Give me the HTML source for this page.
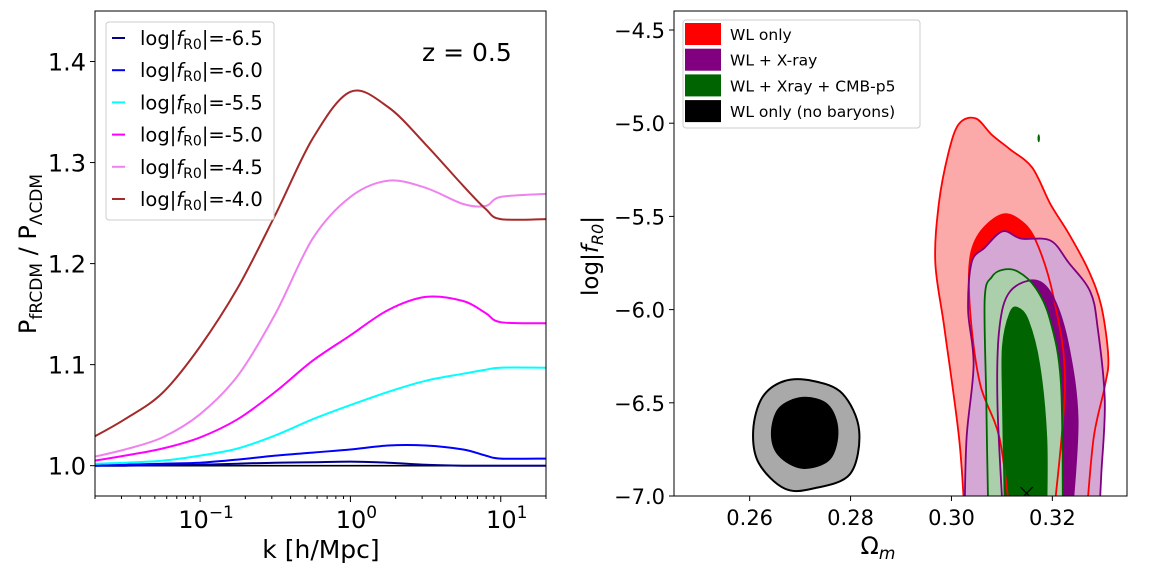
<!DOCTYPE html>
<html><head><meta charset="utf-8">
<style>
html,body{margin:0;padding:0;background:#fff;}
svg{display:block;font-family:"DejaVu Sans","Liberation Sans",sans-serif;}
</style></head>
<body>
<svg id="fig" width="1158" height="572" viewBox="0 0 1158 572">
<defs>
<clipPath id="clipL"><rect x="95" y="11" width="451" height="485"/></clipPath>
<clipPath id="clipR"><rect x="674" y="11" width="453" height="485"/></clipPath>
</defs>
<g id="left"></g>
<g id="right"></g>
</svg>
<script>
// ---------- Left chart data ----------
const logK = [-1.7,-1.5,-1.25,-1,-0.75,-0.5,-0.25,0,0.25,0.5,0.75,0.9,1,1.3];
const seriesLabels = ["-6.5","-6.0","-5.5","-5.0","-4.5","-4.0"];
const seriesColors = ["#00008b","#0000ff","#00ffff","#ff00ff","#ee82ee","#a52a2a"];
const ratio65 = [1.0,1.0,1.0005,1.001,1.002,1.003,1.0035,1.004,1.003,1.001,1.0,1.0,1.0,1.0];
const ratio60 = [1.0,1.001,1.002,1.003,1.006,1.01,1.013,1.016,1.02,1.02,1.016,1.01,1.007,1.007];
const ratio55 = [1.002,1.003,1.005,1.01,1.017,1.03,1.046,1.06,1.073,1.084,1.091,1.095,1.097,1.097];
const ratio50 = [1.005,1.01,1.017,1.028,1.046,1.073,1.104,1.129,1.154,1.167,1.163,1.151,1.142,1.141];
const ratio45 = [1.009,1.016,1.028,1.051,1.089,1.15,1.225,1.266,1.282,1.275,1.259,1.257,1.266,1.269];
const ratio40 = [1.029,1.046,1.072,1.118,1.176,1.248,1.324,1.37,1.355,1.318,1.277,1.254,1.244,1.244];
const yTicksL = [1.0,1.1,1.2,1.3,1.4];
const xTickExpL = [-1,0,1];

// ---------- Right chart data ----------
const xTicksR = [0.26,0.28,0.30,0.32];
const yTicksR = [-4.5,-5.0,-5.5,-6.0,-6.5,-7.0];
const redOuterOm = [0.3026,0.3015,0.2986,0.2968,0.2975,0.2994,0.3015,0.3048,0.308,0.3116,0.316,0.3196,0.3232,0.3271,0.3297,0.3311,0.3304,0.3282,0.3268];
const redOuterF  = [-7.1,-6.686,-6.099,-5.747,-5.433,-5.16,-5.003,-4.974,-5.062,-5.14,-5.238,-5.433,-5.59,-5.786,-5.981,-6.255,-6.412,-6.686,-7.1];
const redInnerOm = [0.3116,0.3095,0.3058,0.304,0.3035,0.3051,0.3095,0.3131,0.3167,0.3203,0.3225,0.3203];
const redInnerF  = [-7.1,-6.686,-6.412,-6.099,-5.786,-5.61,-5.496,-5.512,-5.629,-5.942,-6.392,-7.1];
const purOuterOm = [0.3026,0.303,0.3044,0.3033,0.304,0.3066,0.3102,0.3138,0.3196,0.3232,0.3275,0.329,0.3304,0.3297,0.3293];
const purOuterF  = [-7.1,-6.686,-6.295,-6.001,-5.747,-5.668,-5.58,-5.619,-5.629,-5.747,-5.903,-6.099,-6.49,-6.882,-7.1];
const purInnerOm = [0.3102,0.3091,0.3095,0.3116,0.3167,0.3203,0.3232,0.325,0.3239];
const purInnerF  = [-7.1,-6.49,-6.099,-5.903,-5.844,-5.942,-6.197,-6.588,-7.1];
const grnOuterOm = [0.3073,0.3069,0.3066,0.308,0.3102,0.3131,0.3167,0.3196,0.3217,0.3221];
const grnOuterF  = [-7.1,-6.49,-5.942,-5.825,-5.786,-5.795,-5.884,-6.06,-6.392,-7.1];
const grnInnerOm = [0.3106,0.3102,0.3102,0.3116,0.3131,0.3152,0.3174,0.3188,0.3188];
const grnInnerF  = [-7.1,-6.49,-6.197,-6.021,-5.991,-6.06,-6.295,-6.686,-7.1];
const blkOuterOm = [0.2607,0.2625,0.2669,0.2726,0.2784,0.2817,0.2799,0.2726,0.2669,0.2618];
const blkOuterF  = [-6.647,-6.471,-6.383,-6.383,-6.451,-6.647,-6.882,-6.96,-6.96,-6.823];
const blkInnerOm = [0.2643,0.2658,0.2705,0.2755,0.2775,0.2759,0.2705,0.2658];
const blkInnerF  = [-6.666,-6.529,-6.471,-6.51,-6.647,-6.803,-6.852,-6.784];
const legendR = ["WL only","WL + X-ray","WL + Xray + CMB-p5","WL only (no baryons)"];
const legendRColors = ["#ff0000","#800080","#006400","#000000"];

const NS="http://www.w3.org/2000/svg";
function mk(parent,tag,attrs,text){const e=document.createElementNS(NS,tag);for(const k in attrs)e.setAttribute(k,attrs[k]);if(text!==undefined)e.textContent=text;parent.appendChild(e);return e;}
function smooth(pts,closed){
  const n=pts.length;let d="M"+pts[0][0].toFixed(1)+","+pts[0][1].toFixed(1);
  const get=i=>closed?pts[(i+n)%n]:pts[Math.max(0,Math.min(n-1,i))];
  const lim=closed?n:n-1;
  for(let i=0;i<lim;i++){const p0=get(i-1),p1=get(i),p2=get(i+1),p3=get(i+2);
    const c1=[p1[0]+(p2[0]-p0[0])/6,p1[1]+(p2[1]-p0[1])/6],c2=[p2[0]-(p3[0]-p1[0])/6,p2[1]-(p3[1]-p1[1])/6];
    d+=" C"+c1[0].toFixed(1)+","+c1[1].toFixed(1)+" "+c2[0].toFixed(1)+","+c2[1].toFixed(1)+" "+p2[0].toFixed(1)+","+p2[1].toFixed(1);}
  return d+(closed?"Z":"");
}

// ----- Left chart -----
const L=document.getElementById('left');
const lx0=95,lx1=546,ly0=11,ly1=496;
const xL=v=>lx0+(v-Math.log10(0.02))/(Math.log10(20)-Math.log10(0.02))*(lx1-lx0);
const yL=v=>ly1-(v-0.97)/(1.45-0.97)*(ly1-ly0);
const lplot=mk(L,'g',{'clip-path':'url(#clipL)'});
let e=mk(lplot,'line',{x1:lx0,x2:lx1,y1:yL(1),y2:yL(1),stroke:'#000','stroke-width':1.6});


const allSeries=[ratio65,ratio60,ratio55,ratio50,ratio45,ratio40];
allSeries.forEach((s,i)=>{
  const pts=logK.map((k,j)=>[xL(k),yL(s[j])]);
  const p=mk(lplot,'path',{d:smooth(pts,false),fill:'none',stroke:seriesColors[i],'stroke-width':2});
  
  
});
mk(L,'rect',{x:lx0,y:ly0,width:lx1-lx0,height:ly1-ly0,fill:'none',stroke:'#000','stroke-width':1});
yTicksL.forEach(v=>{const y=yL(v);mk(L,'line',{x1:lx0-5,x2:lx0,y1:y,y2:y,stroke:'#000'});
  const t=mk(L,'text',{x:lx0-9,y:y+9,'font-size':24,'text-anchor':'end'},v.toFixed(1));
  
  });
for(let d=-2;d<=1;d++)for(let m=1;m<10;m++){const lv=d+Math.log10(m);const x=xL(lv);if(x<lx0||x>lx1)continue;
  mk(L,'line',{x1:x,x2:x,y1:ly1,y2:ly1+(m===1?6:3),stroke:'#000'});}
xTickExpL.forEach(p=>{const t=mk(L,'text',{x:xL(p)+6,y:528,'font-size':24,'text-anchor':'middle'});
  
  
  mk(t,'tspan',{},'10');mk(t,'tspan',{dy:-10,'font-size':17},p<0?'\u2212'+Math.abs(p):String(p));});
e=mk(L,'text',{x:321,y:558,'font-size':25,'text-anchor':'middle'},'k [h/Mpc]');


e=mk(L,'text',{transform:'translate(36,254) rotate(-90)','font-size':24,'text-anchor':'middle'});


mk(e,'tspan',{},'P');mk(e,'tspan',{dy:6,'font-size':17},'fRCDM');mk(e,'tspan',{dy:-6},' / P');mk(e,'tspan',{dy:6,'font-size':17},'\u039BCDM');
e=mk(L,'text',{x:422,y:61,'font-size':25},'z = 0.5');


const lg=mk(L,'g',{});


mk(lg,'rect',{x:106,y:22,width:168,height:198,rx:3,fill:'#fff','fill-opacity':0.85,stroke:'#ccc'});
seriesLabels.forEach((lab,i)=>{const y=38+i*32.2;
  const g=mk(lg,'g',{});
  
  
  mk(g,'line',{x1:112,x2:125,y1:y,y2:y,stroke:seriesColors[i],'stroke-width':2});
  const t=mk(g,'text',{x:140,y:y+7,'font-size':19.5});
  mk(t,'tspan',{},'log|');mk(t,'tspan',{'font-style':'italic'},'f');mk(t,'tspan',{dy:4,'font-size':14},'R0');mk(t,'tspan',{dy:-4},'|='+lab);
});

// ----- Right chart -----
const R=document.getElementById('right');
const rx0=674,rx1=1127,ry0=11,ry1=496;
const xR=v=>rx0+(v-0.245)/(0.3348-0.245)*(rx1-rx0);
const yR=v=>ry1-(v+7.0)/(7.0-4.398)*(ry1-ry0);
const rplot=mk(R,'g',{'clip-path':'url(#clipR)'});
function contour(om,f,fill,stroke,name,closed){
  const pts=om.map((o,i)=>[xR(o),yR(f[i])]);
  const p=mk(rplot,'path',{d:smooth(pts,closed)+(closed?'':'Z'),fill:fill,stroke:stroke,'stroke-width':stroke==='none'?0:2});
  
  
}
contour(redOuterOm,redOuterF,'#fba9a9','none','wl-only-95-region',false);
contour(redInnerOm,redInnerF,'#ff0000','none','wl-only-68-region',false);
contour(purOuterOm,purOuterF,'#d4a7d4','none','wl-xray-95-region',false);
contour(purInnerOm,purInnerF,'#800080','none','wl-xray-68-region',false);
contour(grnOuterOm,grnOuterF,'#aacfaa','none','wl-xray-cmb-95-region',false);
contour(grnInnerOm,grnInnerF,'#006400','none','wl-xray-cmb-68-region',false);
function cline(om,f,stroke,name){
  const pts=om.map((o,i)=>[xR(o),yR(f[i])]);
  const p=mk(rplot,'path',{d:smooth(pts,false),fill:'none',stroke:stroke,'stroke-width':1.8});
  
  
}
cline(redOuterOm,redOuterF,'#ff0000','wl-only-95-contour');
cline(redInnerOm,redInnerF,'#ff0000','wl-only-68-contour');
cline(purOuterOm,purOuterF,'#800080','wl-xray-95-contour');
cline(purInnerOm,purInnerF,'#800080','wl-xray-68-contour');
cline(grnOuterOm,grnOuterF,'#006400','wl-xray-cmb-95-contour');
cline(grnInnerOm,grnInnerF,'#006400','wl-xray-cmb-68-contour');
(function(){const pts=blkOuterOm.map((o,i)=>[xR(o),yR(blkOuterF[i])]);
  const p=mk(rplot,'path',{d:smooth(pts,true),fill:'#a9a9a9',stroke:'#000','stroke-width':2});
  
  
  const pts2=blkInnerOm.map((o,i)=>[xR(o),yR(blkInnerF[i])]);
  const p2=mk(rplot,'path',{d:smooth(pts2,true),fill:'#000',stroke:'#000','stroke-width':1});
  
  })();
e=mk(rplot,'ellipse',{cx:xR(0.3173),cy:yR(-5.081),rx:1.2,ry:4,fill:'#006400'});


e=mk(rplot,'path',{d:`M${xR(0.3149)-6},${yR(-6.985)-6} l12,12 M${xR(0.3149)+6},${yR(-6.985)-6} l-12,12`,stroke:'#000','stroke-width':1.2});


mk(R,'rect',{x:rx0,y:ry0,width:rx1-rx0,height:ry1-ry0,fill:'none',stroke:'#000','stroke-width':1});
yTicksR.forEach(v=>{const y=yR(v);mk(R,'line',{x1:rx0-5,x2:rx0,y1:y,y2:y,stroke:'#000'});
  const t=mk(R,'text',{x:rx0-9,y:y+8,'font-size':21,'text-anchor':'end'},'\u2212'+Math.abs(v).toFixed(1));
  
  });
xTicksR.forEach(v=>{const x=xR(v);mk(R,'line',{x1:x,x2:x,y1:ry1,y2:ry1+5,stroke:'#000'});
  const t=mk(R,'text',{x:x,y:525,'font-size':21,'text-anchor':'middle'},v.toFixed(2));
  
  });
e=mk(R,'text',{x:878,y:554,'font-size':24,'text-anchor':'middle'});


mk(e,'tspan',{},'\u03A9');mk(e,'tspan',{dy:5,'font-size':17,'font-style':'italic'},'m');
e=mk(R,'text',{transform:'translate(598,256) rotate(-90)','font-size':23,'text-anchor':'middle'});


mk(e,'tspan',{},'log|');mk(e,'tspan',{'font-style':'italic'},'f');mk(e,'tspan',{dy:5,'font-size':16,'font-style':'italic'},'R0');mk(e,'tspan',{dy:-5},'|');
const lg2=mk(R,'g',{});


mk(lg2,'rect',{x:683,y:20,width:237,height:108,rx:3,fill:'#fff','fill-opacity':0.85,stroke:'#ccc'});
legendR.forEach((lab,i)=>{const y=34+i*25.7;
  const g=mk(lg2,'g',{});
  
  
  mk(g,'rect',{x:685,y:y-11,width:36,height:22,fill:legendRColors[i]});
  mk(g,'text',{x:730,y:y+6,'font-size':15.5},lab);
});
</script>
</body></html>
